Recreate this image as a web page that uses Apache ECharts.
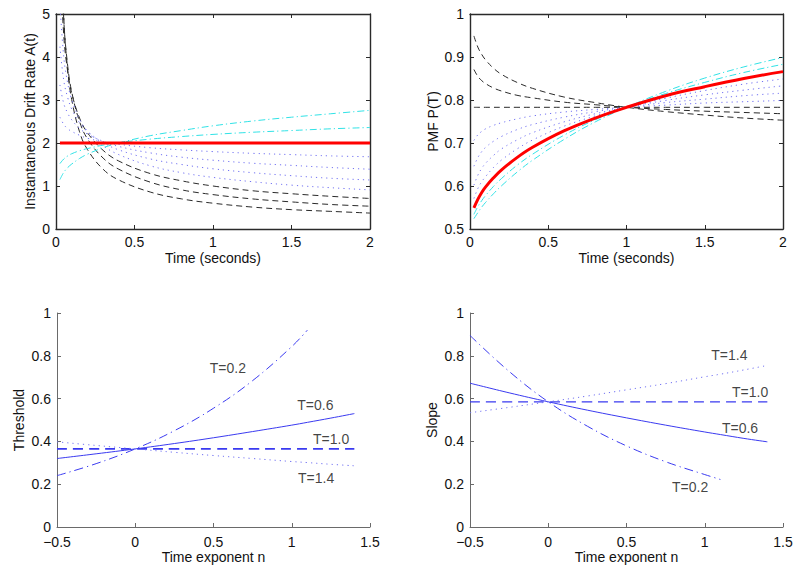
<!DOCTYPE html>
<html>
<head>
<meta charset="utf-8">
<title>Drift rate, PMF, threshold and slope</title>
<script src="https://cdn.jsdelivr.net/npm/echarts@6/dist/echarts.min.js"></script>
<style>
html,body{margin:0;padding:0;background:#fff;}
#main{width:800px;height:572px;}
</style>
</head>
<body>
<div id="main"></div>
<script>
// time points (seconds) shared by the two upper panels
var tGrid = [0.025, 0.05, 0.075, 0.1, 0.15, 0.2, 0.3, 0.4, 0.6, 0.8, 1, 1.25, 1.5, 1.75, 2];

// instantaneous drift rate A(t), one array per time exponent n
var driftN07 = [7.93, 4.89, 3.68, 3.01, 2.26, 1.85, 1.39, 1.14, 0.86, 0.70, 0.60, 0.51, 0.45, 0.41, 0.37];
var driftN06 = [7.32, 4.83, 3.78, 3.19, 2.50, 2.10, 1.65, 1.39, 1.09, 0.91, 0.80, 0.70, 0.63, 0.57, 0.53];
var driftN05 = [6.32, 4.47, 3.65, 3.16, 2.58, 2.24, 1.83, 1.58, 1.29, 1.12, 1.00, 0.89, 0.82, 0.76, 0.71];
var driftN04 = [5.25, 3.98, 3.38, 3.01, 2.56, 2.28, 1.94, 1.73, 1.47, 1.31, 1.20, 1.10, 1.02, 0.96, 0.91];
var driftN03 = [4.24, 3.44, 3.05, 2.79, 2.47, 2.27, 2.01, 1.84, 1.63, 1.50, 1.40, 1.31, 1.24, 1.18, 1.14];
var driftN02 = [3.35, 2.91, 2.69, 2.54, 2.34, 2.21, 2.04, 1.92, 1.77, 1.67, 1.60, 1.53, 1.48, 1.43, 1.39];
var driftN01 = [2.60, 2.43, 2.33, 2.27, 2.18, 2.11, 2.03, 1.97, 1.89, 1.84, 1.80, 1.76, 1.73, 1.70, 1.68];
var driftN00 = [2, 2, 2, 2, 2, 2, 2, 2, 2, 2, 2, 2, 2, 2, 2];
var driftP01 = [1.52, 1.63, 1.70, 1.75, 1.82, 1.87, 1.95, 2.01, 2.09, 2.15, 2.20, 2.25, 2.29, 2.33, 2.36];
var driftP02 = [1.15, 1.32, 1.43, 1.51, 1.64, 1.74, 1.89, 2.00, 2.17, 2.29, 2.40, 2.51, 2.60, 2.68, 2.76];

// PMF P(T) for the same exponents
var pmfN07 = [0.949, 0.923, 0.906, 0.893, 0.874, 0.860, 0.841, 0.827, 0.807, 0.794, 0.783, 0.773, 0.765, 0.758, 0.753];
var pmfN06 = [0.871, 0.855, 0.845, 0.838, 0.828, 0.821, 0.811, 0.805, 0.795, 0.789, 0.783, 0.778, 0.774, 0.771, 0.768];
var pmfN05 = [0.783, 0.783, 0.783, 0.783, 0.783, 0.783, 0.783, 0.783, 0.783, 0.783, 0.783, 0.783, 0.783, 0.783, 0.783];
var pmfN04 = [0.706, 0.719, 0.727, 0.733, 0.741, 0.747, 0.756, 0.763, 0.772, 0.778, 0.783, 0.788, 0.793, 0.796, 0.799];
var pmfN03 = [0.646, 0.666, 0.680, 0.690, 0.704, 0.715, 0.731, 0.743, 0.760, 0.773, 0.783, 0.794, 0.802, 0.810, 0.816];
var pmfN02 = [0.602, 0.625, 0.641, 0.653, 0.671, 0.686, 0.707, 0.724, 0.749, 0.768, 0.783, 0.799, 0.812, 0.823, 0.833];
var pmfN01 = [0.571, 0.594, 0.610, 0.622, 0.643, 0.660, 0.686, 0.707, 0.739, 0.763, 0.783, 0.804, 0.822, 0.837, 0.849];
var pmfN00 = [0.549, 0.569, 0.585, 0.598, 0.619, 0.637, 0.666, 0.690, 0.728, 0.758, 0.783, 0.810, 0.831, 0.850, 0.866];
var pmfP01 = [0.534, 0.552, 0.566, 0.578, 0.599, 0.617, 0.648, 0.674, 0.718, 0.754, 0.783, 0.815, 0.841, 0.864, 0.883];
var pmfP02 = [0.524, 0.538, 0.551, 0.562, 0.582, 0.600, 0.632, 0.660, 0.708, 0.749, 0.783, 0.820, 0.851, 0.877, 0.899];

// time exponent n for the two lower panels
var nGrid = [-0.5, -0.25, 0, 0.25, 0.5, 0.75, 1, 1.1, 1.25, 1.4];

var thresholdT02 = [0.240, 0.296, 0.365, 0.450, 0.555, 0.684, 0.843, 0.920];
var thresholdT06 = [0.320, 0.342, 0.365, 0.390, 0.417, 0.446, 0.476, 0.489, 0.509, 0.530];
var thresholdT10 = [0.365, 0.365, 0.365, 0.365, 0.365, 0.365, 0.365, 0.365, 0.365, 0.365];
var thresholdT14 = [0.398, 0.381, 0.365, 0.349, 0.334, 0.320, 0.306, 0.301, 0.293, 0.286];

var slopeT02 = [0.895, 0.727, 0.585, 0.471, 0.379, 0.305, 0.245, 0.222];
var slopeT06 = [0.672, 0.627, 0.585, 0.546, 0.510, 0.476, 0.444, 0.432, 0.414, 0.398];
var slopeT10 = [0.585, 0.585, 0.585, 0.585, 0.585, 0.585, 0.585, 0.585, 0.585, 0.585];
var slopeT14 = [0.534, 0.559, 0.585, 0.612, 0.641, 0.670, 0.702, 0.714, 0.734, 0.755];

// curve labels in the lower panels (left edge of the text, in data units)
var curveNames = ['T=0.2', 'T=0.6', 'T=1.0', 'T=1.4'];
var thresholdLabelAt = [[0.476, 0.744], [1.035, 0.570], [1.136, 0.411], [1.04, 0.228]];
var slopeLabelAt = [[0.791, 0.188], [1.110, 0.461], [1.174, 0.632], [1.042, 0.804]];

var FONT = '"Liberation Sans", Arial, Helvetica, sans-serif';
var TXT = '#111';
var BLACK = '#2a2a2a';
var DOTS = '#7272f2';
var CYAN = '#30e2e6';
var RED = '#ff0000';
var BLUE = '#3a3af0';

function pairs(xs, ys){
	var out = [];
	for(var i = 0; i < ys.length; i++){
		out.push([xs[i], ys[i]]);
	}
	return out;
}

function minusSign(v){
	return String(v).replace('-', '\u2212');
}

// one value axis; mirror axes only carry the box edge and inward ticks
function axis(grid, pos, min, max, step, opt){
	opt = opt || {};
	var isMirror = !!opt.mirror;
	return {
		type: 'value',
		gridIndex: grid,
		position: pos,
		min: min,
		max: max,
		interval: step,
		name: isMirror ? '' : (opt.name || ''),
		nameLocation: 'middle',
		nameGap: opt.gap || 20,
		nameTextStyle: {fontFamily: FONT, fontSize: 14, color: TXT},
		axisLine: {show: true, onZero: false, lineStyle: {color: opt.color || BLACK, width: opt.width || 1.4}},
		axisTick: {show: true, inside: true, length: 4, lineStyle: {color: opt.color || BLACK, width: 1}},
		axisLabel: {
			show: !isMirror,
			margin: opt.margin || 6,
			fontFamily: FONT,
			fontSize: 14,
			color: TXT,
			hideOverlap: false,
			showMinLabel: true,
			showMaxLabel: true,
			formatter: minusSign
		},
		splitLine: {show: false}
	};
}

function line(xi, xs, ys, color, width, dash, z){
	return {
		type: 'line',
		xAxisIndex: xi,
		yAxisIndex: xi,
		data: pairs(xs, ys),
		symbol: 'none',
		smooth: 0.4,
		clip: true,
		silent: true,
		z: z || 2,
		lineStyle: {color: color, width: width, type: dash}
	};
}

function labels(xi, spots){
	var data = [];
	for(var i = 0; i < spots.length; i++){
		data.push({name: curveNames[i], value: spots[i]});
	}
	return {
		type: 'scatter',
		xAxisIndex: xi,
		yAxisIndex: xi,
		symbolSize: 0,
		silent: true,
		data: data,
		label: {
			show: true,
			position: [0, 0],
			align: 'left',
			verticalAlign: 'middle',
			formatter: '{b}',
			fontFamily: FONT,
			fontSize: 14,
			color: TXT
		}
	};
}

var dashBlack = [6, 4];
var dotted = [1.2, 4];
var dashDotCyan = [7, 3, 1.2, 3];

var chart = echarts.init(document.getElementById('main'), null, {renderer: 'svg'});

var option = {
	backgroundColor: '#fff',
	animation: false,
	grid: [
		{left: 56, top: 14, width: 314, height: 215},
		{left: 470, top: 14, width: 313, height: 215},
		{left: 57, top: 313, width: 313, height: 214},
		{left: 470, top: 313, width: 313, height: 214}
	],
	// xAxis / yAxis 0..3: the four panels, 4..5: box mirrors of the upper panels
	xAxis: [
		axis(0, 'bottom', 0, 2, 0.5, {name: 'Time (seconds)', gap: 22}),
		axis(1, 'bottom', 0, 2, 0.5, {name: 'Time (seconds)', gap: 22}),
		axis(2, 'bottom', -0.5, 1.5, 0.5, {name: 'Time exponent n', gap: 23, margin: 8, color: '#6a6a6a', width: 1}),
		axis(3, 'bottom', -0.5, 1.5, 0.5, {name: 'Time exponent n', gap: 23, margin: 8, color: '#6a6a6a', width: 1}),
		axis(0, 'top', 0, 2, 0.5, {mirror: true}),
		axis(1, 'top', 0, 2, 0.5, {mirror: true})
	],
	yAxis: [
		axis(0, 'left', 0, 5, 1, {name: 'Instantaneous Drift Rate A(t)', gap: 19}),
		axis(1, 'left', 0.5, 1, 0.1, {name: 'PMF P(T)', gap: 30}),
		axis(2, 'left', 0, 1, 0.2, {name: 'Threshold', gap: 31, color: '#6a6a6a', width: 1}),
		axis(3, 'left', 0, 1, 0.2, {name: 'Slope', gap: 31, color: '#6a6a6a', width: 1}),
		axis(0, 'right', 0, 5, 1, {mirror: true}),
		axis(1, 'right', 0.5, 1, 0.1, {mirror: true})
	],
	series: [
		// A(t)
		line(0, tGrid, driftN07, BLACK, 1, dashBlack),
		line(0, tGrid, driftN06, BLACK, 1, dashBlack),
		line(0, tGrid, driftN05, BLACK, 1, dashBlack),
		line(0, tGrid, driftN04, DOTS, 1, dotted),
		line(0, tGrid, driftN03, DOTS, 1, dotted),
		line(0, tGrid, driftN02, DOTS, 1, dotted),
		line(0, tGrid, driftN01, DOTS, 1, dotted),
		line(0, tGrid, driftP01, CYAN, 1, dashDotCyan),
		line(0, tGrid, driftP02, CYAN, 1, dashDotCyan),
		line(0, tGrid, driftN00, RED, 3, 'solid', 5),
		// P(T)
		line(1, tGrid, pmfN07, BLACK, 1, dashBlack),
		line(1, tGrid, pmfN06, BLACK, 1, dashBlack),
		line(1, tGrid, pmfN05, BLACK, 1, dashBlack),
		line(1, tGrid, pmfN04, DOTS, 1, dotted),
		line(1, tGrid, pmfN03, DOTS, 1, dotted),
		line(1, tGrid, pmfN02, DOTS, 1, dotted),
		line(1, tGrid, pmfN01, DOTS, 1, dotted),
		line(1, tGrid, pmfP01, CYAN, 1, dashDotCyan),
		line(1, tGrid, pmfP02, CYAN, 1, dashDotCyan),
		line(1, tGrid, pmfN00, RED, 3, 'solid', 5),
		// threshold
		line(2, nGrid, thresholdT02, BLUE, 1, [9, 4, 1.2, 4]),
		line(2, nGrid, thresholdT06, BLUE, 1, 'solid'),
		line(2, nGrid, thresholdT10, BLUE, 1.6, [10, 6]),
		line(2, nGrid, thresholdT14, DOTS, 1, [1.2, 4]),
		labels(2, thresholdLabelAt),
		// slope
		line(3, nGrid, slopeT02, BLUE, 1, [9, 4, 1.2, 4]),
		line(3, nGrid, slopeT06, BLUE, 1, 'solid'),
		line(3, nGrid, slopeT10, BLUE, 1.2, [10, 6]),
		line(3, nGrid, slopeT14, DOTS, 1, [1.2, 4]),
		labels(3, slopeLabelAt)
	]
};

chart.setOption(option);
</script>
</body>
</html>
